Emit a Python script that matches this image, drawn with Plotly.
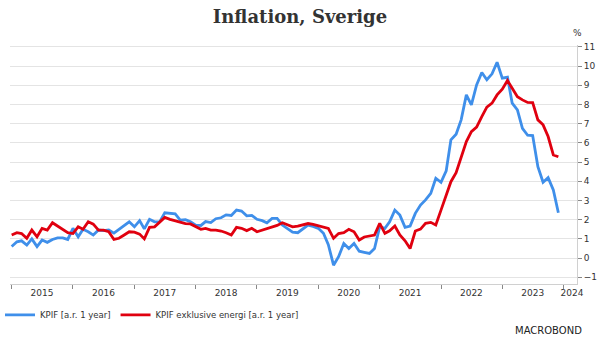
import pandas as pd
import plotly.graph_objects as go

dates = pd.date_range("2015-01-01", periods=108, freq="MS")

kpif = [
    0.6, 0.85, 0.9, 0.68, 1.0, 0.6, 0.94, 0.82, 0.97, 1.05, 1.05, 0.97,
    1.55, 1.11, 1.5, 1.37, 1.2, 1.46, 1.43, 1.46, 1.3, 1.5, 1.72, 1.89,
    1.63, 1.95, 1.52, 2.02, 1.89, 1.9, 2.36, 2.33, 2.3, 1.98, 2.0, 1.89,
    1.72, 1.7, 1.9, 1.85, 2.05, 2.1, 2.25, 2.22, 2.5, 2.45, 2.2, 2.22,
    2.02, 1.95, 1.84, 2.07, 2.07, 1.72, 1.55, 1.35, 1.32, 1.5, 1.72, 1.65,
    1.55, 1.29, 0.7, -0.37, 0.07, 0.76, 0.5, 0.76, 0.36, 0.3, 0.24, 0.5,
    1.63, 1.55, 1.89, 2.5, 2.24, 1.6, 1.67, 2.33, 2.76, 3.03, 3.37, 4.16,
    3.95, 4.55, 6.16, 6.45, 7.2, 8.5, 7.98, 9.02, 9.67, 9.29, 9.6, 10.2,
    9.37, 9.42, 8.07, 7.72, 6.76, 6.4, 6.38, 4.76, 3.95, 4.19, 3.55, 2.36,
]

kpif_ex_energy = [
    1.2, 1.32, 1.28, 1.03, 1.46, 1.11, 1.55, 1.46, 1.84, 1.67, 1.46, 1.32,
    1.28, 1.63, 1.5, 1.89, 1.77, 1.46, 1.46, 1.37, 0.97, 1.03, 1.2, 1.37,
    1.35, 1.25, 1.0, 1.6, 1.63, 1.9, 2.12, 2.02, 1.95, 1.85, 1.8, 1.78,
    1.62, 1.5, 1.55, 1.46, 1.46, 1.41, 1.32, 1.2, 1.6, 1.55, 1.43, 1.55,
    1.37, 1.46, 1.5, 1.6, 1.7, 1.84, 1.72, 1.63, 1.67, 1.72, 1.8, 1.75,
    1.69, 1.63, 1.55, 1.03, 1.28, 1.33, 1.5, 1.37, 0.94, 1.1, 1.15, 1.2,
    1.81, 1.29, 1.42, 1.67, 1.2, 0.9, 0.5, 1.41, 1.51, 1.81, 1.86, 1.72,
    2.5, 3.3, 3.98, 4.45, 5.28, 6.07, 6.59, 6.82, 7.37, 7.86, 8.07, 8.5,
    8.8, 9.25, 8.85, 8.41, 8.24, 8.11, 8.1, 7.2, 6.94, 6.33, 5.37, 5.28,
]

year_labels = ["2015", "2016", "2017", "2018", "2019", "2020", "2021", "2022", "2023", "2024"]
label_dates = [f"{y}-07-01" for y in year_labels[:-1]] + ["2024-02-20"]
year_starts = [f"{y}-01-01" for y in year_labels]
y_ticks = list(range(-1, 12))

BLUE = "#3f8fea"
RED = "#e0000f"

fig = go.Figure()
fig.add_trace(go.Scatter(x=dates, y=kpif, mode="lines", name="KPIF [a.r. 1 year]",
                         line=dict(color=BLUE, width=2.8)))
fig.add_trace(go.Scatter(x=dates, y=kpif_ex_energy, mode="lines",
                         name="KPIF exklusive energi [a.r. 1 year]",
                         line=dict(color=RED, width=2.8)))

fig.update_layout(
    width=600, height=343,
    margin=dict(l=10, r=23, t=45, b=59, autoexpand=False),
    paper_bgcolor="white", plot_bgcolor="white",
    title=dict(text="<b>Inflation, Sverige</b>", x=0.5, xanchor="center", y=0.95, yanchor="middle",
               font=dict(family="DejaVu Serif", size=18, color="#333333")),
    showlegend=True,
    legend=dict(orientation="h", xref="container", yref="container",
                x=0.0, xanchor="left", y=0.082, yanchor="middle",
                font=dict(family="DejaVu Sans", size=8.5, color="#333333"),
                itemwidth=30, tracegroupgap=0, bgcolor="rgba(0,0,0,0)"),
    font=dict(family="DejaVu Sans", size=9, color="#333333"),
)

fig.update_xaxes(
    type="date", range=["2014-12-22", "2024-03-21"],
    tickmode="array", tickvals=label_dates, ticktext=year_labels,
    ticks="", showgrid=False, zeroline=False,
    showline=True, linecolor="#d0d0d0", linewidth=1,
    tickfont=dict(family="DejaVu Sans", size=9, color="#333333"),
    minor=dict(tickmode="array", tickvals=year_starts, ticks="outside", ticklen=4,
               tickcolor="#888888", tickwidth=1, showgrid=False),
)

fig.update_yaxes(
    side="right", range=[-1.35, 11.1],
    tickmode="array", tickvals=y_ticks,
    showgrid=True, gridcolor="#e4e4e4", gridwidth=1, zeroline=False,
    showline=True, linecolor="#d0d0d0", linewidth=1,
    ticks="outside", ticklen=4, tickcolor="#888888",
    tickfont=dict(family="DejaVu Sans", size=9, color="#333333"),
)

fig.add_annotation(text="%", xref="paper", yref="paper", x=1.0, y=1.0, xanchor="center",
                   yanchor="bottom", yshift=5, showarrow=False,
                   font=dict(family="DejaVu Sans", size=9, color="#333333"))
fig.add_annotation(text="MACROBOND", xref="paper", yref="paper", x=0.95, y=-0.195,
                   xanchor="center", yanchor="middle", showarrow=False,
                   font=dict(family="DejaVu Sans", size=10, color="#222222"))

fig.write_html("out.html")
